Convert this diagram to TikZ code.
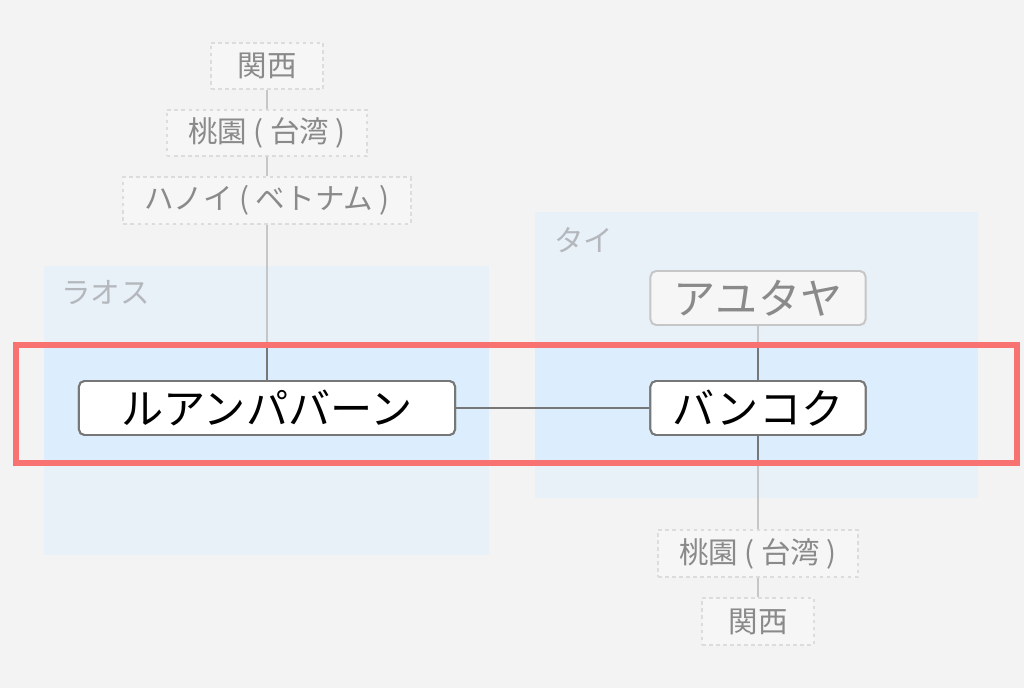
\documentclass[tikz,border=0pt]{standalone}
\usepackage{fontspec}
\setmainfont{Noto Sans CJK JP}
\definecolor{bggray}{HTML}{F3F3F3}
\definecolor{zonefill}{HTML}{E8F0F8}
\definecolor{zonelit}{HTML}{DCEEFD}
\definecolor{zonetext}{HTML}{B4B8BC}
\definecolor{boxline}{HTML}{777777}
\definecolor{fadeline}{HTML}{C6C6C6}
\definecolor{hopline}{HTML}{DCDCDC}
\definecolor{fadetext}{HTML}{8A8A8A}
\definecolor{fadefill}{HTML}{F6F6F6}
\definecolor{markred}{HTML}{F87272}
\tikzset{
  city/.style={draw=boxline, line width=1.4pt, fill=white, rounded corners=4pt,
    inner sep=0pt, minimum height=1.35cm, font=\fontsize{30}{33}\selectfont},
  othercity/.style={city, draw=fadeline, fill=fadefill, text=fadetext},
  hop/.style={draw=hopline, dash pattern=on 2.5pt off 2.5pt, line width=1.4pt,
    fill=fadefill, inner sep=0pt, minimum height=1.17cm, text=fadetext,
    font=\fontsize{21}{24}\selectfont},
  zone/.style={fill=zonefill},
  zonelabel/.style={anchor=north west, text=zonetext, inner sep=0pt,
    font=\fontsize{21}{24}\selectfont},
  link/.style={draw=boxline, line width=1.4pt},
  fadelink/.style={draw=fadeline, line width=1.4pt}
}
\begin{document}
\begin{tikzpicture}[x=0.025cm, y=-0.025cm]
		\fill[bggray] (0,0) rectangle (1024,688);
		\useasboundingbox (0,0) rectangle (1024,688);
		% zones
		\fill[zone] (44,266) rectangle (489,555);
		\fill[zone] (535,212) rectangle (978,498);
		\fill[zonelit] (44,348) rectangle (489,460);
		\fill[zonelit] (535,348) rectangle (978,460);
		\node[zonelabel] (laos) at (61,280) {ラオス};
		\node[zonelabel] (thai) at (554,227) {タイ};
		% cities
		\node[city, minimum width=9.4cm] (luang) at (267,408) {ルアンパバーン};
		\node[city, minimum width=5.375cm] (bangkok) at (758,408) {バンコク};
		\node[othercity, minimum width=5.375cm] (ayutthaya) at (758,298) {アユタヤ};
		\node[hop, minimum width=2.8cm] (kansaiA) at (267,66) {関西};
		\node[hop, minimum width=5cm] (taoyuanA) at (267,133) {桃園 ( 台湾 )};
		\node[hop, minimum width=7.175cm] (hanoi) at (267,200.5) {ハノイ ( ベトナム )};
		\node[hop, minimum width=5cm] (taoyuanB) at (758,553.5) {桃園 ( 台湾 )};
		\node[hop, minimum width=2.8cm] (kansaiB) at (758,621.5) {関西};
		% connectors
		\draw[fadelink] (kansaiA) -- (taoyuanA) -- (hanoi) -- (luang)
		(ayutthaya) -- (bangkok) -- (taoyuanB) -- (kansaiB);
		\begin{scope}
		\clip (16,345) rectangle (1017,463);
		\draw[link] (hanoi) -- (luang) (ayutthaya) -- (bangkok) -- (taoyuanB);
		\end{scope}
		\draw[link] (luang) -- (bangkok);
		\node[city, minimum width=9.4cm] at (luang) {ルアンパバーン};
		\node[city, minimum width=5.375cm] at (bangkok) {バンコク};
		% focus frame
		\draw[markred, line width=4.3pt] (16,345) rectangle (1017,463);
	\end{tikzpicture}
\end{document}
